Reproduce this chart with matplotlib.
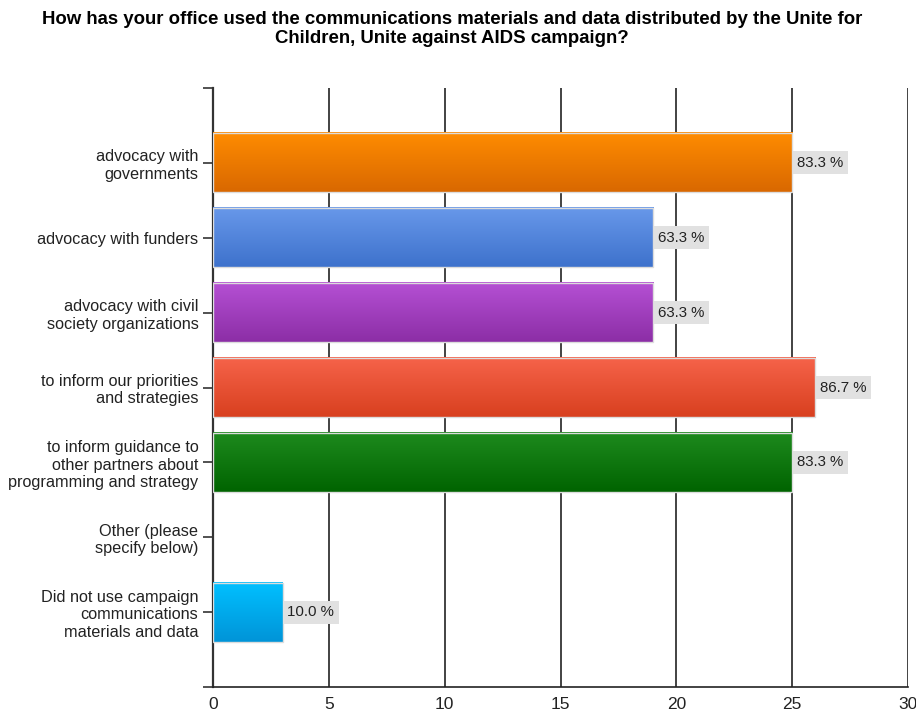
import matplotlib
matplotlib.use("Agg")
import matplotlib.pyplot as plt
import numpy as np
from matplotlib.colors import to_rgb

plt.rcParams['font.family'] = ['Liberation Sans', 'DejaVu Sans']

title = ("How has your office used the communications materials and data distributed by the Unite for\n"
         "Children, Unite against AIDS campaign?")

categories = [
    "advocacy with\ngovernments",
    "advocacy with funders",
    "advocacy with civil\nsociety organizations",
    "to inform our priorities\nand strategies",
    "to inform guidance to\nother partners about\nprogramming and strategy",
    "Other (please\nspecify below)",
    "Did not use campaign\ncommunications\nmaterials and data",
]
counts = [25, 19, 19, 26, 25, 0, 3]
percents = [83.3, 63.3, 63.3, 86.7, 83.3, None, 10.0]

# top / bottom colours of each bar's vertical gradient
top_colors = ["#ff8c00", "#6898ea", "#b550d4", "#f6634a", "#1e8a1e", None, "#00c0ff"]
bottom_colors = ["#d96800", "#3e72cc", "#8c2ea6", "#d8401f", "#006400", None, "#0094d8"]

xticks = [0, 5, 10, 15, 20, 25, 30]

fig = plt.figure(figsize=(9.16, 7.13), dpi=100)
ax = fig.add_axes([213 / 916, 1 - 687 / 713, (908 - 213) / 916, (687 - 88) / 713])

fig.text(452 / 916, 1 - 29 / 713, title, ha='center', va='center', fontsize=13.4,
         fontweight='bold', linespacing=1.22)

bar_h = 0.79
for i, (v, pct, c0, c1) in enumerate(zip(counts, percents, top_colors, bottom_colors)):
    if v <= 0:
        continue
    a, b = np.array(to_rgb(c0)), np.array(to_rgb(c1))
    t = np.linspace(0, 1, 64)[:, None, None]
    grad = a * (1 - t) + b * t
    ax.imshow(grad, extent=(0, v, i + bar_h / 2, i - bar_h / 2), origin='upper',
              aspect='auto', interpolation='bilinear', zorder=3)
    ax.add_patch(plt.Rectangle((0, i - bar_h / 2), v, bar_h, fill=False,
                               edgecolor='#dcdcdc', linewidth=1.0, zorder=4))
    ax.annotate(f"{pct:.1f} %", (v, i), xytext=(3.5, 0), textcoords='offset points',
                ha='left', va='center', fontsize=10.8, color='#222222', zorder=5,
                bbox=dict(boxstyle='square,pad=0.3', fc='#e1e1e1', ec='none'))

ax.set_xlim(0, 30)
ax.set_ylim(7, -1)
ax.set_xticks(xticks)
ax.set_xticklabels([str(x) for x in xticks], fontsize=12.5)
ax.set_yticks(list(range(-1, 8)))
ax.set_yticklabels([""] + categories + [""], fontsize=11.7, linespacing=1.2, color='#222222')
ax.tick_params(axis='y', length=7.5, width=1.2, color='#333333', pad=3)
ax.tick_params(axis='x', length=0, pad=7, colors='#222222')

for x in xticks[1:]:
    ax.axvline(x, color='#222222', lw=1.2, zorder=1)

for side in ['top', 'right']:
    ax.spines[side].set_visible(False)
ax.spines['left'].set_color('#333333')
ax.spines['left'].set_linewidth(1.6)
ax.spines['bottom'].set_color('#222222')
ax.spines['bottom'].set_linewidth(1.2)

fig.savefig("out.png", dpi=100)
